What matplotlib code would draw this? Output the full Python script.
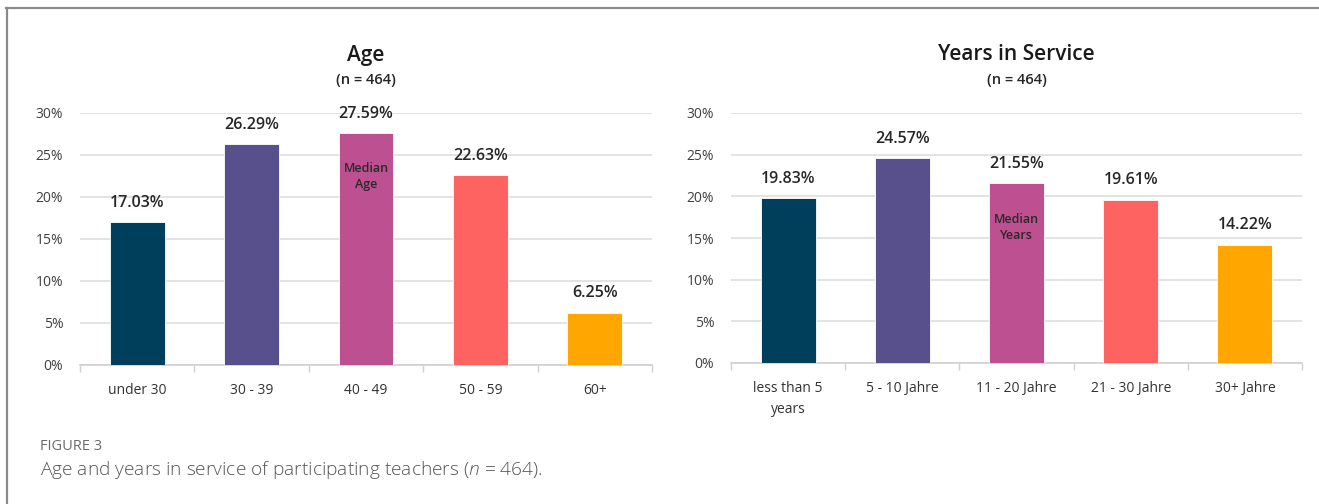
import matplotlib.pyplot as plt
from matplotlib.lines import Line2D

# data
age_labels = ["under 30", "30 - 39", "40 - 49", "50 - 59", "60+"]
age_values = [17.03, 26.29, 27.59, 22.63, 6.25]
years_labels = ["less than 5\nyears", "5 - 10 Jahre", "11 - 20 Jahre", "21 - 30 Jahre", "30+ Jahre"]
years_values = [19.83, 24.57, 21.55, 19.61, 14.22]
bar_colors = ["#003f5c", "#58508d", "#bc5090", "#ff6361", "#ffa600"]
y_ticks = [0, 5, 10, 15, 20, 25, 30]

plt.rcParams["font.family"] = ["Open Sans", "DejaVu Sans"]
plt.rcParams["mathtext.fontset"] = "custom"
plt.rcParams["mathtext.rm"] = "Open Sans"
plt.rcParams["mathtext.it"] = "Open Sans:italic:light"

W, H = 1319, 504
fig = plt.figure(figsize=(W / 100, H / 100), dpi=100)


def px_axes(x0, x1, ytop, ybot):
    return fig.add_axes([x0 / W, 1 - ybot / H, (x1 - x0) / W, (ybot - ytop) / H])


def draw_panel(ax, labels, values, title, median_idx, median_text):
    x = range(len(values))
    ax.bar(x, values, width=0.48, color=bar_colors, edgecolor="white", linewidth=0.6, zorder=3)
    ax.set_xlim(-0.5, len(values) - 0.5)
    ax.set_ylim(0, 30)
    ax.set_yticks(y_ticks)
    ax.set_yticklabels([f"{t}%" for t in y_ticks], fontsize=10, color="#404040")
    ax.set_xticks(list(x))
    ax.set_xticklabels(labels, fontsize=10, color="#333333", linespacing=1.5)
    ax.tick_params(axis="y", length=0, pad=12)
    ax.tick_params(axis="x", which="major", length=0, pad=13)
    ax.set_xticks([i - 0.5 for i in range(len(values) + 1)], minor=True)
    ax.tick_params(axis="x", which="minor", length=5, color="#d0d0d0", width=1)
    ax.grid(axis="y", color="#dedede", linewidth=1.2, zorder=0)
    for s in ["top", "right", "left"]:
        ax.spines[s].set_visible(False)
    ax.spines["bottom"].set_color("#d0d0d0")
    ax.spines["bottom"].set_linewidth(1.2)
    for i, v in enumerate(values):
        ax.annotate(f"{v:.2f}%", (i, v), xytext=(0, 8), textcoords="offset points",
                    ha="center", va="bottom", fontsize=11.5, fontweight="semibold",
                    color="#262626")
    ax.annotate(median_text, (median_idx, values[median_idx]), xytext=(0, -21),
                textcoords="offset points", ha="center", va="top", fontsize=9,
                fontweight="semibold", color="#2a2a2a", linespacing=1.3)
    cx = (ax.get_position().x0 + ax.get_position().x1) / 2
    fig.text(cx, 1 - 55 / H, title, ha="center", va="center", fontsize=15,
             fontweight="semibold", color="#1a1a1a")
    fig.text(cx, 1 - 80 / H, "(n = 464)", ha="center", va="center", fontsize=10.5,
             fontweight="semibold", color="#262626")


ax1 = px_axes(80, 652, 113, 365)
draw_panel(ax1, age_labels, age_values, "Age", 2, "Median\nAge")
ax2 = px_axes(731, 1302, 113, 363)
draw_panel(ax2, years_labels, years_values, "Years in Service", 2, "Median\nYears")

# frame lines
fig.add_artist(Line2D([6 / W, 1], [1 - 8 / H, 1 - 8 / H], color="#8a8a8a", linewidth=1.6,
                      transform=fig.transFigure))
fig.add_artist(Line2D([7 / W, 7 / W], [0, 1 - 8 / H], color="#8a8a8a", linewidth=1.6,
                      transform=fig.transFigure))

# caption
fig.text(40 / W, 1 - 447 / H, "FIGURE 3", ha="left", va="center", fontsize=10.5, color="#6b6b6b")
fig.text(40 / W, 1 - 470 / H, r"Age and years in service of participating teachers ($n$ = 464).",
         ha="left", va="center", fontsize=13.8, color="#555555", fontweight="light")

fig.savefig("out.png", dpi=100, facecolor="white")
